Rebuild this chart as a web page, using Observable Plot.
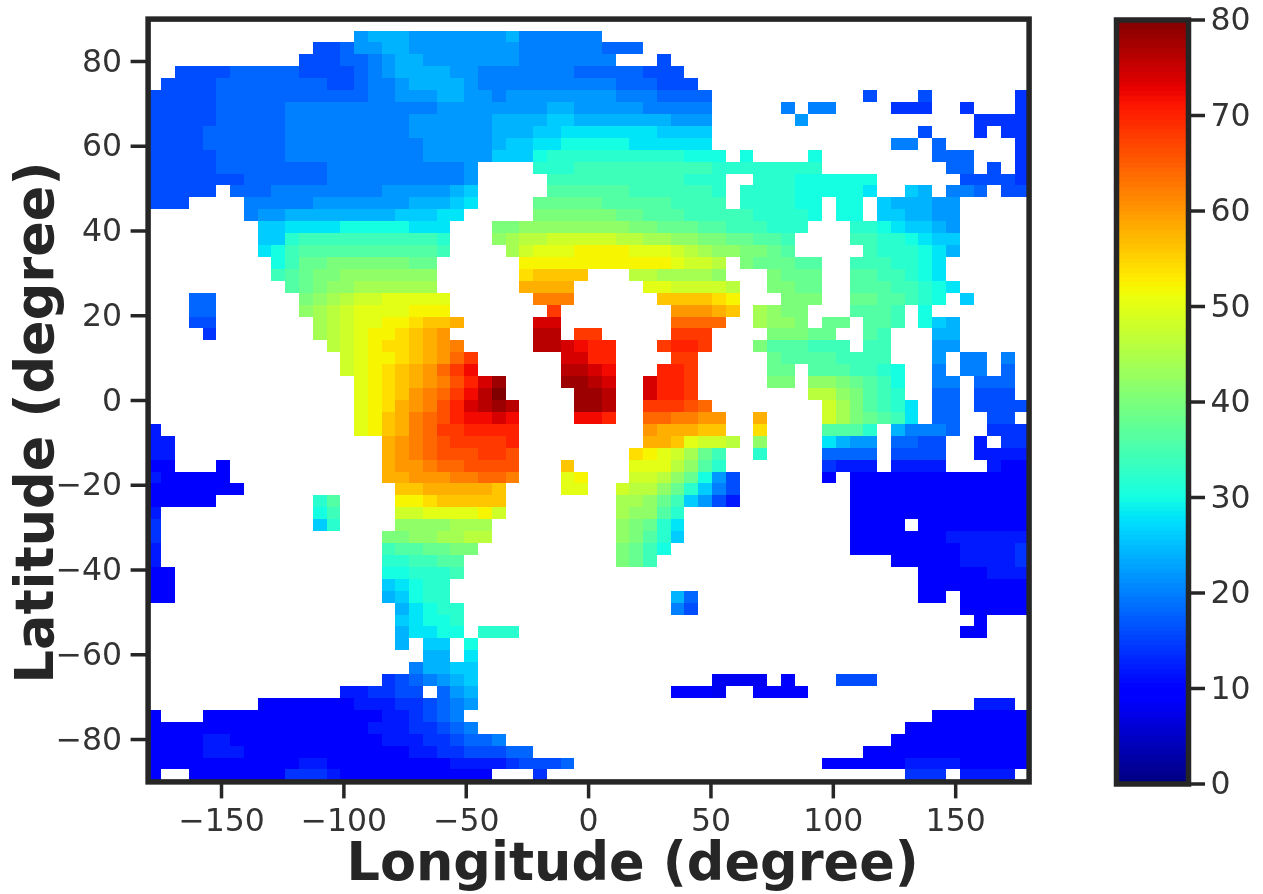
<!DOCTYPE html>
<html>
<head>
<meta charset="utf-8">
<script src="https://cdn.jsdelivr.net/npm/d3@7"></script>
<script src="https://cdn.jsdelivr.net/npm/@observablehq/plot@0.6"></script>
<style>
html,body{margin:0;padding:0;background:#fff;}
#wrap{position:relative;width:1263px;height:894px;overflow:hidden;filter:blur(0.6px);}
#main,#bar{position:absolute;top:0;}
#main{left:0;} #bar{left:1090px;}
svg{display:block;}
</style>
</head>
<body>
<div id="wrap"><div id="main"></div><div id="bar"></div></div>
<script>
// Value code: index in this alphabet x 2 = value (0..80)
const codes = "0123456789abcdefghijklmnopqrstuvwxyzABCDE";
const lonTicks = [-150,-100,-50,0,50,100,150];
const latTicks = [-80,-60,-40,-20,0,20,40,60,80];
const barTicks = [0,10,20,30,40,50,60,70,80];
const lonLabel = "Longitude (degree)";
const latLabel = "Latitude (degree)";
const nCols = 64, nRows = 64;

// Each row: runs of [first column, coded values]; rows go north to south.
const arcticRows = [
 [],
 [[15,"bcccbbbbbbbc aaaaaa"]],
 [[12,"889 bb cc bbbbbbb b aaaaaa 999"]],
 [[11,"88899 a b cc bbbbbbb aaaaaaa"],[37,"8"]],
 [[2,"888899999 88889 abc ccc bb aaaa aaa999 99888"]],
 [[1,"888899999 99988 9 a a b c ccc b aaaa aaaaaa 999888"]],
 [[0,"8 8888999999 99999 aa bb bcc bb abb bbbbbb aaa9999"],[52,"8"],[56,"8"],[63,"7"]],
 [[0,"88 88899999 aaaaaa aaaa abb bb bbbb ccbbb bbaaaaa"],[46,"a"],[48,"aa"],[54,"777"],[59,"7"],[63,"7"]],
 [[0,"88 88899999 aaaaaa aaab bbb bb cccc ddccc ccccbbb"],[47,"b"],[60,"7777"]],
 [[0,"88 88999999 aaaaaa aaab bbb bb cccd deeee eeedddd"],[56,"8"],[60,"7"],[62,"77"]],
 [[0,"88 88999999 aaaaaa aaaa bbb bb cdde effff feeeeee"],[54,"aa"],[57,"9"],[63,"7"]],
 [[0,"88 88899999 aaaaaa aaaa bbb bb dddf ggggg gggggfff"],[43,"f"],[48,"f"],[57,"999"],[63,"7"]],
 [[0,"88 88899999 999aaa aaaa aaa b"],[28,"ggghh hhhhhhhh gggggggg"],[58,"99"],[61,"8"],[63,"7"]],
 [[0,"88 88888999 999aaa aaaa aaa b"],[29,"hhhhhhhhhhggg"],[44,"gggffffff"],[59,"88887"]],
 [[0,"88888"],[6,"999 aaaaaaaa bbbbb cd"],[29,"iiiiiihhhhhhg"],[43,"ggggfffffe"],[55,"dc"],[58,"aa9"],[62,"88"]],
 [[0,"888"],[7,"aa aaabbbbb bbcc cde"],[28,"jjjjjiiiiihhhh"],[43,"ggggff"],[50,"ff"],[53,"dcccbb"]]
];
const temperateRows = [
 [[7,"ab bcccccccc ddde e"],[28,"kkkkk kjjiiihh hhhggggf"],[50,"ff"],[53,"ddccbb"]],
 [[8,"ddeeeefffffeee"],[25,"kkll lllll lkkjjjii hhhggg"],[51,"ggfeddcb"]],
 [[8,"ddghhhhhhhhhhg"],[25,"lmnnooo oonn mmll kkjjiih"],[51,"hhggfedd"]],
 [[8,"efhiiiiiiiiiih"],[26,"moppp qqqqpppo nmllkkji"],[52,"hgggfec"]],
 [[9,"fhjjkkkkkkjj"],[27,"qqqqqqqqqqqpoon"],[43,"kjjjii"],[51,"hhhggfe"]],
 [[9,"hijkklllllll"],[27,"rssss"],[35,"nnmmmml"],[45,"kjjj"],[51,"iihhgfe"]],
 [[10,"ijkllmmmmmm"],[27,"tttt"],[36,"ppoooon"],[45,"kkjj"],[51,"iiihhgfe"]],
 [[3,"99"],[11,"klmnooppppp"],[28,"vvv"],[37,"ssssrq"],[46,"kkk"],[51,"jjiihgf"],[59,"d"]],
 [[3,"99"],[11,"lmnoppppqqq"],[29,"y"],[38,"uuuts"],[44,"mlkk"],[51,"iiih"],[56,"f"]],
 [[3,"88"],[12,"mnoppqqrsst"],[28,"BB"],[38,"wwww"],[44,"mllk"],[49,"jj"],[52,"iih"],[56,"fdc"]],
 [[4,"7"],[12,"mnopqqrstu"],[28,"CC"],[31,"yy"],[38,"yyy"],[45,"kkkjj"],[52,"ih"],[57,"cc"]],
 [[13,"nopqrrstuv"],[28,"CCBAzz"],[37,"yzzy"],[44,"kiiihhh"],[52,"hh"],[57,"bb"]],
 [[14,"opqqrstuwy"],[30,"BBzz"],[38,"yy"],[45,"jiiiihhhh"],[57,"b"],[59,"aa"],[62,"a"]],
 [[14,"opqrstuwyA"],[30,"CCBA"],[37,"zzy"],[45,"jj"],[48,"iiihhgf"],[57,"a"],[59,"aa"],[62,"9"]],
 [[15,"pqrstuvxzBD"],[30,"DDCB"],[36,"Bzzy"],[45,"kk"],[48,"llkjihf"],[57,"aa"],[60,"999"]],
 [[15,"pqrsuvwyACE"],[31,"DDC"],[36,"Bzzy"],[48,"nnlkihg"],[57,"99"],[60,"888"]]
];
const tropicalRows = [
 [[15,"pqrtuvxzBCDC"],[31,"DDC"],[36,"yyyxw"],[49,"omkihge"],[57,"99"],[60,"8888"]],
 [[15,"pqstvwxzAABA"],[31,"AAz"],[36,"wwvvuu"],[44,"t"],[49,"omkjihe"],[57,"99"],[61,"88"]],
 [[0,"6"],[15,"pqstvwyyzzzz"],[36,"utttss"],[44,"r"],[49,"iiig"],[54,"caaa9"],[61,"777"]],
 [[0,"66"],[17,"tuvwxyyyyz"],[36,"ttspoon"],[44,"l"],[49,"ecbb"],[54,"9988"],[60,"6"],[62,"77"]],
 [[0,"66"],[17,"tuvwxxxyyx"],[35,"rqpomjh"],[44,"g"],[49,"9999"],[54,"8888"],[60,"6666"]],
 [[0,"55"],[5,"5"],[17,"tuuvwwxxxx"],[30,"s"],[35,"pppnlig"],[49,"7666"],[54,"6666"],[61,"655"]],
 [[0,"655555"],[17,"ttuuuvvwwv"],[30,"pq"],[35,"oonljfb8"],[49,"5"],[51,"5555555555555"]],
 [[0,"5555555"],[18,"ssttttts"],[30,"pp"],[34,"onnljgda8"],[51,"5555555555555"]],
 [[0,"55555"],[12,"gi"],[18,"qqrsssss"],[34,"mmljhdb86"],[51,"5555555555555"]],
 [[0,"6"],[12,"fh"],[18,"ooppppqo"],[34,"mllig"],[51,"5555555555555"]],
 [[0,"7"],[12,"dg"],[18,"llllmmm"],[34,"lkjge"],[51,"5555"],[56,"55555555"]],
 [[0,"7"],[17,"kkllmmnn"],[34,"lkigd"],[51,"5555555666666"]],
 [[0,"6"],[17,"hiijjkk"],[34,"kjhf"],[51,"5555555566667"]],
 [[0,"6"],[17,"gghhii"],[34,"kjh"],[54,"5555566667"]],
 [[0,"55"],[17,"ffgggh"],[56,"55555666"]],
 [[0,"55"],[17,"defgg"],[56,"55555555"]]
];
const southernRows = [
 [[0,"55"],[17,"cdfgg"],[38,"c9"],[56,"55"],[59,"55555"]],
 [[18,"cefgg"],[38,"a8"],[59,"55555"]],
 [[18,"deffg"],[60,"5"]],
 [[18,"ceeff"],[24,"ggg"],[59,"55"]],
 [[18,"c"],[20,"dd"],[23,"f"]],
 [[20,"cc"],[23,"e"]],
 [[19,"accdd"]],
 [[17,"789abcd"],[41,"4444"],[46,"5"],[50,"888"]],
 [[14,"667788"],[21,"9bc"],[38,"5554"],[44,"5555"]],
 [[8,"5555555 66677 89ab"],[60,"666"]],
 [[0,"5"],[4,"5555555555 55566 789a"],[57,"5555555"]],
 [[0,"5555 5555555555 55666 7789a"],[55,"555555555"]],
 [[0,"5555 6655555555 55566 67789 9a"],[54,"5555555555"]],
 [[0,"5555 6665555555 55555 66778 8899"],[52,"555555555555"]],
 [[0,"5555 5555555665 55555 55566 6678889"],[49,"555555666655555"]],
 [[0,"5"],[3,"5555555 777 6 55555555555"],[28,"7"],[55,"777"],[59,"6666"]]
];

function jet(t){
  const seg=(pts)=>{
    for(let i=1;i<pts.length;i++){
      if(t<=pts[i][0]){
        const [a,va]=pts[i-1],[b,vb]=pts[i];
        return va+(vb-va)*(t-a)/(b-a);
      }
    }
    return pts[pts.length-1][1];
  };
  const r=seg([[0,0],[0.35,0],[0.66,1],[0.89,1],[1,0.5]]);
  const g=seg([[0,0],[0.125,0],[0.375,1],[0.64,1],[0.91,0],[1,0]]);
  const b=seg([[0,0.5],[0.11,1],[0.34,1],[0.65,0],[1,0]]);
  return `rgb(${Math.round(r*255)},${Math.round(g*255)},${Math.round(b*255)})`;
}
const colorScale = {type:"linear",domain:[0,80],interpolate:jet};
const lonStep = 360/nCols, latStep = 180/nRows;
const cells = [...arcticRows,...temperateRows,...tropicalRows,...southernRows].flatMap((runs,r)=>
  runs.flatMap(([c0,str])=>Array.from(str.replace(/ /g,""),(ch,i)=>({
    x1:-180+(c0+i)*lonStep, x2:-180+(c0+i+1)*lonStep,
    y1:90-r*latStep, y2:90-(r+1)*latStep,
    v:codes.indexOf(ch)*2
  })))
);
const ink="#262626", txt="#333333", font="'DejaVu Sans'";

const main = Plot.plot({
  width:1060,height:894,
  marginLeft:147.6,marginRight:31.4,marginTop:18.6,marginBottom:112.6,
  style:{fontFamily:font,background:"transparent",overflow:"visible"},
  x:{domain:[-180,180]},y:{domain:[-90,90]},color:colorScale,
  marks:[
    Plot.rect(cells,{x1:"x1",x2:"x2",y1:"y1",y2:"y2",fill:"v",inset:0,shapeRendering:"crispEdges"}),
    Plot.frame({stroke:ink,strokeWidth:5.5}),
    Plot.axisX(lonTicks,{anchor:"bottom",label:null,tickSize:17,tickPadding:10,fontSize:31.5,stroke:ink,strokeWidth:3.5,fill:txt,tickFormat:d3.format("d")}),
    Plot.axisY(latTicks,{anchor:"left",label:null,tickSize:17,tickPadding:9,fontSize:31.5,stroke:ink,strokeWidth:3.5,fill:txt,tickFormat:d3.format("d")}),
    Plot.text([lonLabel],{frameAnchor:"bottom",text:d=>d,dx:44,dy:98,fontSize:52.5,fontWeight:"bold",fill:ink,textAnchor:"middle"}),
    Plot.text([latLabel],{frameAnchor:"left",text:d=>d,dx:-112,dy:22,rotate:-90,fontSize:52.5,fontWeight:"bold",fill:ink,textAnchor:"middle"})
  ]
});
document.getElementById("main").appendChild(main);

const barValues = d3.range(0,80,0.5);
const bar = Plot.plot({
  width:173,height:894,
  marginLeft:26,marginRight:75,marginTop:19.5,marginBottom:110.5,
  style:{fontFamily:font,background:"transparent",overflow:"visible"},
  x:{domain:[0,1],axis:null},y:{domain:[0,80]},color:colorScale,
  marks:[
    Plot.rect(barValues,{x1:0,x2:1,y1:d=>d,y2:d=>d+0.5,fill:d=>d+0.25,inset:0,shapeRendering:"crispEdges"}),
    Plot.frame({stroke:ink,strokeWidth:5.5}),
    Plot.axisY(barTicks,{anchor:"right",label:null,tickSize:16,tickPadding:6,fontSize:31.5,stroke:ink,strokeWidth:3.5,fill:txt})
  ]
});
document.getElementById("bar").appendChild(bar);
</script>
</body>
</html>
